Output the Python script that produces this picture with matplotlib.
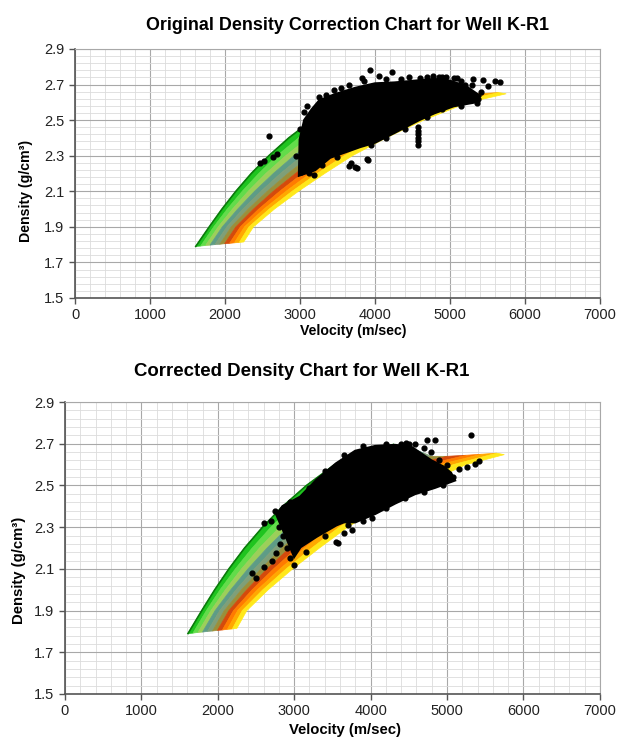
import matplotlib
matplotlib.use("Agg")
import numpy as np
import matplotlib.pyplot as plt
from matplotlib.ticker import FixedLocator, MultipleLocator, FormatStrFormatter

plt.rcParams['font.family'] = ['Liberation Sans', 'DejaVu Sans']

# velocity (m/s) where each band boundary crosses these density levels
levels = [1.9, 2.0, 2.1, 2.2, 2.3, 2.4, 2.5, 2.6]
bound_start_v = [1610, 1675, 1740, 1800, 1865, 1930, 1995, 2060, 2125, 2190, 2250]
bound_start_d = [1.790, 1.792, 1.795, 1.797, 1.800, 1.802, 1.805, 1.807, 1.810, 1.812, 1.815]
bound_v = [
    [1790, 1960, 2145, 2350, 2585, 2850, 3160, 3530],
    [1850, 2030, 2230, 2450, 2695, 2980, 3310, 3700],
    [1910, 2100, 2310, 2545, 2810, 3110, 3460, 3875],
    [1965, 2170, 2395, 2645, 2920, 3240, 3605, 4045],
    [2025, 2240, 2480, 2740, 3030, 3370, 3755, 4220],
    [2085, 2310, 2565, 2840, 3145, 3500, 3905, 4390],
    [2145, 2380, 2645, 2940, 3255, 3630, 4055, 4560],
    [2205, 2450, 2730, 3035, 3365, 3760, 4205, 4735],
    [2260, 2520, 2815, 3135, 3475, 3890, 4350, 4905],
    [2320, 2590, 2895, 3230, 3590, 4020, 4500, 5080],
    [2380, 2660, 2980, 3330, 3700, 4150, 4650, 5250],
]
bound_end_v = [4300, 4400, 4500, 4600, 4700, 4800, 5000, 5250, 5450, 5650, 5750]
bound_end_d = [2.697, 2.69, 2.68, 2.67, 2.655, 2.64, 2.64, 2.645, 2.65, 2.655, 2.648]
band_colors = ['#1fc41f', '#62dc4a', '#9ccf5a', '#5e9c86', '#7f9f78',
               '#9a8f3a', '#d44a0c', '#ff7b00', '#ffa800', '#ffe81a']

# dense part of the log data (outline) and scattered points
orig_cloud_v = [2990, 3000, 3060, 3160, 3260, 3470, 3740, 4000, 4260, 4530, 4790, 5000,
                5210, 5400, 5320, 5050, 4790, 4580, 4260, 4000, 3800, 3600, 3400, 3200]
orig_cloud_d = [2.19, 2.39, 2.50, 2.56, 2.61, 2.645, 2.68, 2.705, 2.71, 2.72, 2.73, 2.72,
                2.69, 2.635, 2.60, 2.58, 2.54, 2.50, 2.43, 2.375, 2.35, 2.32, 2.29, 2.22]
orig_pts_v = [2590, 2470, 2520, 2640, 2700, 3050, 3200, 3937, 4222, 3822, 4053, 4773, 5311,
              5436, 5600, 5667, 5511, 5267, 5356, 3911, 3733, 3658, 3184, 3895, 3763, 3684,
              4900, 5100, 5200, 4575, 4575, 4575, 4575, 4575, 4575,
              3100, 3250, 3350, 3450, 3550, 3650, 3850, 4150, 4350, 4450, 4600, 4700, 4850,
              4950, 5050, 5150, 5300, 5420, 5380, 3000, 2950, 3020, 3120, 3300, 3500, 3950,
              4150, 4400, 4700, 4900, 5150]
orig_pts_d = [2.41, 2.26, 2.27, 2.29, 2.31, 2.544, 2.542, 2.782, 2.769, 2.735, 2.746, 2.75, 2.73,
              2.725, 2.72, 2.715, 2.69, 2.66, 2.595, 2.276, 2.235, 2.24, 2.19, 2.28, 2.23, 2.26,
              2.74, 2.735, 2.70, 2.36, 2.38, 2.40, 2.42, 2.44, 2.46,
              2.58, 2.63, 2.64, 2.67, 2.68, 2.70, 2.72, 2.73, 2.73, 2.74, 2.735, 2.745, 2.745,
              2.74, 2.735, 2.72, 2.70, 2.66, 2.62, 2.45, 2.30, 2.21, 2.20, 2.25, 2.29, 2.36,
              2.40, 2.45, 2.52, 2.56, 2.58]

corr_cloud_v = [2770, 2850, 3080, 3290, 3550, 3800, 4060, 4320, 4530, 4690, 4790, 4950, 5050,
                5100, 4840, 4580, 4320, 4060, 3800, 3650, 3550, 3290, 3080, 3000, 2900]
corr_cloud_d = [2.36, 2.40, 2.445, 2.525, 2.605, 2.665, 2.688, 2.693, 2.685, 2.645, 2.62, 2.59,
                2.56, 2.525, 2.49, 2.46, 2.415, 2.365, 2.325, 2.325, 2.31, 2.255, 2.205, 2.16, 2.25]
corr_pts_v = [5312, 4844, 4740, 4792, 4584, 2599, 2453, 2505, 2609, 2713, 2765, 2817, 3571,
              3545, 3649, 3753, 4012, 5260, 5364, 5416, 5156, 4460, 4400,
              2700, 2750, 2800, 2850, 2900, 2950, 3000, 3150, 3400, 3700, 3900, 4200, 4450,
              4700, 4950, 5080, 5000, 4900, 4700, 4500, 4200, 3900, 3650, 3400, 3200, 2950]
corr_pts_d = [2.74, 2.72, 2.717, 2.66, 2.70, 2.32, 2.08, 2.055, 2.11, 2.14, 2.174, 2.22, 2.222,
              2.23, 2.27, 2.286, 2.342, 2.589, 2.605, 2.618, 2.581, 2.705, 2.70,
              2.33, 2.38, 2.30, 2.26, 2.20, 2.15, 2.12, 2.18, 2.26, 2.31, 2.33, 2.39, 2.44,
              2.47, 2.50, 2.54, 2.60, 2.62, 2.68, 2.70, 2.70, 2.69, 2.645, 2.57, 2.49, 2.42]

v_ticks = [0, 1000, 2000, 3000, 4000, 5000, 6000, 7000]
d_ticks = [1.5, 1.7, 1.9, 2.1, 2.3, 2.5, 2.7, 2.9]


def boundary(i):
    xs = [bound_start_v[i]] + bound_v[i] + [bound_end_v[i]]
    ys = [bound_start_d[i]] + levels + [bound_end_d[i]]
    return xs, ys


def draw_panel(ax, cloud_v, cloud_d, pts_v, pts_d):
    ax.set_xlim(0, 7000)
    ax.set_ylim(1.5, 2.9)
    ax.xaxis.set_major_locator(FixedLocator(v_ticks))
    ax.xaxis.set_minor_locator(MultipleLocator(200))
    ax.yaxis.set_major_locator(FixedLocator(d_ticks))
    ax.yaxis.set_minor_locator(FixedLocator(np.arange(1.5, 2.91, 0.04)))
    ax.grid(which='minor', color='#dcdcdc', lw=0.6)
    ax.grid(which='major', color='#a8a8a8', lw=0.8)
    ax.set_axisbelow(True)
    ax.tick_params(which='minor', length=0)
    ax.tick_params(which='major', length=4, width=1, color='#555555',
                   labelsize=10.5, labelcolor='#222222')
    ax.yaxis.set_major_formatter(FormatStrFormatter('%.1f'))
    for s in ('top', 'right'):
        ax.spines[s].set_color('#a8a8a8')
        ax.spines[s].set_linewidth(0.8)
    for s in ('left', 'bottom'):
        ax.spines[s].set_color('#555555')
        ax.spines[s].set_linewidth(1.2)

    for i in range(len(band_colors)):
        x1, y1 = boundary(i)
        x2, y2 = boundary(i + 1)
        ax.fill(x1 + x2[::-1], y1 + y2[::-1], color=band_colors[i], lw=0.5, zorder=2)
    x0, y0 = boundary(0)
    ax.plot(x0, y0, color='#0b7a0b', lw=1.2, zorder=3)

    ax.fill(cloud_v, cloud_d, color='black', lw=2, ec='black', zorder=4)
    ax.scatter(pts_v, pts_d, s=12, color='black', zorder=5)


fig = plt.figure(figsize=(6.19, 7.39), dpi=100)

ax1 = fig.add_axes([0.1212, 0.5968, 0.848, 0.3369])
draw_panel(ax1, orig_cloud_v, orig_cloud_d, orig_pts_v, orig_pts_d)
ax1.set_xlabel('Velocity (m/sec)', fontsize=10.2, fontweight='bold')
ax1.xaxis.set_label_coords(0.53, -0.105)
ax1.set_ylabel('Density (g/cm³)', fontsize=10.2, fontweight='bold')
ax1.yaxis.set_label_coords(-0.08, 0.43)
fig.text(0.561, 0.966, 'Original Density Correction Chart for Well K-R1',
         ha='center', va='center', fontsize=12.9, fontweight='bold')

ax2 = fig.add_axes([0.105, 0.0609, 0.864, 0.395])
draw_panel(ax2, corr_cloud_v, corr_cloud_d, corr_pts_v, corr_pts_d)
ax2.set_xlabel('Velocity (m/sec)', fontsize=10.7, fontweight='bold')
ax2.xaxis.set_label_coords(0.523, -0.098)
ax2.set_ylabel('Density (g/cm³)', fontsize=10.7, fontweight='bold')
ax2.yaxis.set_label_coords(-0.073, 0.425)
fig.text(0.488, 0.497, 'Corrected Density Chart for Well K-R1',
         ha='center', va='center', fontsize=13.4, fontweight='bold')

fig.savefig('out.png', dpi=100)
